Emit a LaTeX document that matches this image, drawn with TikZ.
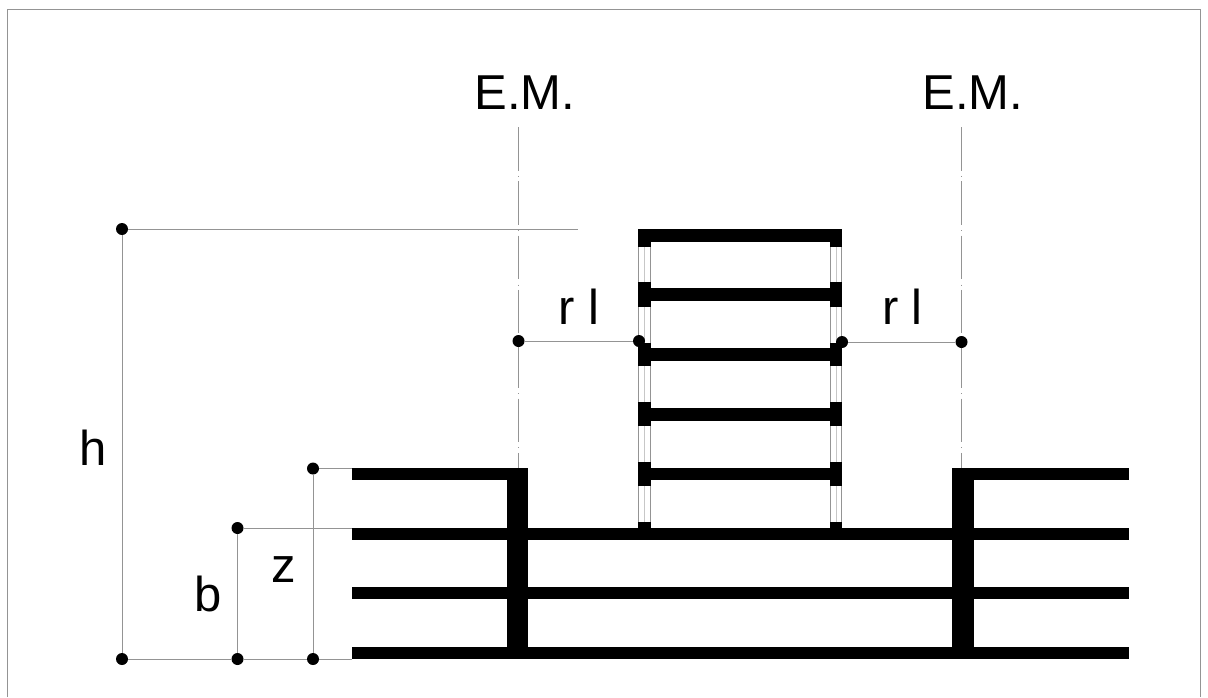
\documentclass[tikz,border=0pt]{standalone}
\usepackage{fontspec}
\setmainfont{Liberation Sans}
\usetikzlibrary{positioning}

\begin{document}
\begin{tikzpicture}[x=1pt,y=-1pt,thick,
    dim node/.style={circle,fill=black,inner sep=0pt,minimum size=12pt},
    label node/.style={inner sep=0pt,anchor=base,font=\fontsize{49}{60}\selectfont},
    dim line/.style={-,line width=1pt,color=black!42},
    axis line/.style={-,line width=1pt,color=black!42,dash pattern=on 43.5pt off 5.4pt on 0.8pt off 4.6pt},
    window line/.style={-,line width=1pt,color=black!42},
    window mid/.style={-,line width=1pt,color=black!22},
    slab/.style={fill=black}]
   \useasboundingbox (0,0) rectangle (1208,697);
   % sheet edge, its foot is cut off
   \draw[line width=1pt,color=black!42] (7.5,697) -- (7.5,9.5) -- (1200.5,9.5) -- (1200.5,697);

   % building in the back, windows first
   \path[window line] (638.5,241) edge (638.5,525);
   \path[window mid] (644.5,241) edge (644.5,525);
   \path[window line] (650.5,241) edge (650.5,525);
   \path[window line] (830.5,241) edge (830.5,525);
   \path[window mid] (836,241) edge (836,525);
   \path[window line] (841.5,241) edge (841.5,525);
   \fill[slab] (638.3,229) rectangle (841.7,241.7);
   \fill[slab] (638.3,229) rectangle (650.7,247.3);
   \fill[slab] (830,229) rectangle (841.7,247.3);
   \fill[slab] (650,288.3) rectangle (831,300.7);
   \fill[slab] (638.3,282.3) rectangle (650.7,306.7);
   \fill[slab] (830,282.3) rectangle (841.7,306.7);
   \fill[slab] (650,348.3) rectangle (831,361);
   \fill[slab] (638.3,342.7) rectangle (650.7,366);
   \fill[slab] (830,342.7) rectangle (841.7,366);
   \fill[slab] (650,408.3) rectangle (831,420.7);
   \fill[slab] (638.3,402.3) rectangle (650.7,426);
   \fill[slab] (830,402.3) rectangle (841.7,426);
   \fill[slab] (650,468.3) rectangle (831,480.3);
   \fill[slab] (638.3,462.3) rectangle (650.7,485.7);
   \fill[slab] (830,462.3) rectangle (841.7,485.7);
   \fill[slab] (638.3,521.7) rectangle (650.7,530);
   \fill[slab] (830,521.7) rectangle (841.7,530);

   % low block
   \fill[slab] (352,468.3) rectangle (528.3,480);
   \fill[slab] (952.3,468.3) rectangle (1129.3,480);
   \fill[slab] (352,527.7) rectangle (1129.3,540);
   \fill[slab] (352,587.3) rectangle (1129.3,599.3);
   \fill[slab] (352,647) rectangle (1129.3,659);
   \fill[slab] (507.3,468.3) rectangle (528.3,659);
   \fill[slab] (952.3,468.3) rectangle (973.7,659);

   % axes
   \coordinate (axl top) at (518.5,127);
   \coordinate (axl end) at (518.5,468.3);
   \coordinate (axr top) at (961.5,127);
   \coordinate (axr end) at (961.5,468.3);
   \path[axis line] (axl top) edge (axl end);
   \path[axis line] (axr top) edge (axr end);

   % dimension points
   \node[dim node] (h top) at (122,229) {};
   \node[dim node] (h foot) at (122,659) {};
   \node[dim node] (b top) at (237.5,528) {};
   \node[dim node] (b foot) at (237.5,659) {};
   \node[dim node] (z top) at (313,468.5) {};
   \node[dim node] (z foot) at (313,659) {};
   \node[dim node] (rl a) at (518.5,341) {};
   \node[dim node] (rl b) at (639,341) {};
   \node[dim node] (rl c) at (842,342) {};
   \node[dim node] (rl d) at (961.5,342) {};
   \coordinate (h end) at (578,229);
   \coordinate (b end) at (352,528);
   \coordinate (z end) at (352,468.5);
   \coordinate (foot end) at (352,659);
   \path[dim line] (h top) edge (h end);
   \path[dim line] (h top) edge (h foot);
   \path[dim line] (b top) edge (b end);
   \path[dim line] (b top) edge (b foot);
   \path[dim line] (z top) edge (z end);
   \path[dim line] (z top) edge (z foot);
   \path[dim line] (h foot) edge (b foot);
   \path[dim line] (b foot) edge (z foot);
   \path[dim line] (z foot) edge (foot end);
   \path[dim line] (rl a) edge (rl b);
   \path[dim line] (rl c) edge (rl d);

   % texts
   \node[label node] (em left) at (525,109.3) {E.M.};
   \node[label node] (em right) at (973,109.3) {E.M.};
   \node[label node] (rl left) at (579,324) {r l};
   \node[label node] (rl right) at (902.5,324) {r l};
   \node[label node] (h label) at (93,465) {h};
   \node[label node] (b label) at (208,611) {b};
   \node[label node] (z label) at (284,582) {z};
\end{tikzpicture}
\end{document}
